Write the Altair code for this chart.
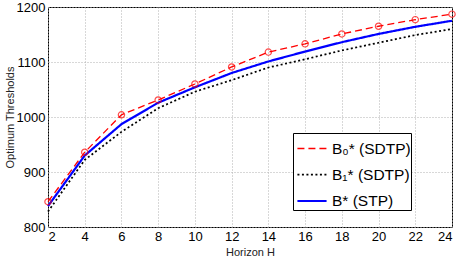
import altair as alt
import pandas as pd

# Horizon values and optimum thresholds per policy
horizon = [2, 4, 6, 8, 10, 12, 14, 16, 18, 20, 22, 24]
series_names = ["B\u2080* (SDTP)", "B\u2081* (SDTP)", "B* (STP)"]
b0_sdtp = [846, 936, 1004, 1031, 1060, 1091, 1118, 1133, 1151, 1165, 1177, 1187]
b1_sdtp = [828, 922, 973, 1016, 1046, 1067, 1090, 1105, 1121, 1135, 1149, 1160]
b_stp = [838, 930, 987, 1026, 1054, 1080, 1101, 1119, 1136, 1151, 1164, 1175]

rows = []
for name, vals in zip(series_names, [b0_sdtp, b1_sdtp, b_stp]):
    for h, v in zip(horizon, vals):
        rows.append({"H": h, "value": v, "series": name})
df = pd.DataFrame(rows)

font = "Liberation Sans"

x = alt.X(
    "H:Q",
    scale=alt.Scale(domain=[2, 24], nice=False),
    axis=alt.Axis(values=list(range(2, 25, 2)), title="Horizon H", format="d"),
)
y = alt.Y(
    "value:Q",
    scale=alt.Scale(domain=[800, 1200], nice=False),
    axis=alt.Axis(values=[800, 900, 1000, 1100, 1200], title="Optimum Thresholds", format="d"),
)

color = alt.Color(
    "series:N",
    scale=alt.Scale(domain=series_names, range=["#ff0000", "#000000", "#0000ff"]),
    sort=series_names,
    legend=alt.Legend(
        title=None,
        orient="none",
        legendX=245,
        legendY=126,
        fillColor="white",
        strokeColor="black",
        padding=0,
        symbolOffset=3,
        symbolType="stroke",
        symbolSize=850,
        symbolStrokeWidth=2,
        labelFontSize=15.5,
        labelFont=font,
        labelColor="black",
        # non-breaking spaces keep some room to the right of the labels
        labelExpr="datum.label + '\u00a0\u00a0\u00a0\u00a0\u00a0\u00a0'",
        rowPadding=2,
        labelOffset=4,
    ),
)
dash = alt.StrokeDash(
    "series:N",
    scale=alt.Scale(domain=series_names, range=[[7, 4], [2, 2.5], [1, 0]]),
    sort=series_names,
)
width_enc = alt.StrokeWidth(
    "series:N",
    scale=alt.Scale(domain=series_names, range=[1.3, 2.2, 2]),
    legend=None,
)

lines = alt.Chart(df).mark_line().encode(
    x=x, y=y, color=color, strokeDash=dash, strokeWidth=width_enc,
    order=alt.Order("H:Q"),
)

points = (
    alt.Chart(df)
    .transform_filter(alt.datum.series == series_names[0])
    .mark_point(shape="circle", filled=False, color="#ff0000", size=40, strokeWidth=1.2)
    .encode(x=x, y=y)
)

chart = (
    alt.layer(lines, points)
    .properties(
        width=404,
        height=220,
        autosize=alt.AutoSizeParams(type="none"),
        padding={"left": 48, "top": 7, "right": 4, "bottom": 37},
    )
    .configure_view(stroke="black", strokeWidth=1)
    .configure_axis(
        grid=True,
        gridColor="#b0b0b0",
        gridDash=[1, 2],
        gridWidth=1,
        ticks=False,
        domain=False,
        labelFont=font,
        labelFontSize=13,
        labelColor="black",
        titleFont=font,
        titleFontSize=11,
        titleFontWeight="normal",
        titleColor="#222222",
    )
    .configure_axisX(labelPadding=3, titlePadding=3)
    .configure_axisY(labelPadding=3, titlePadding=1)
)

chart.save("out.html", embed_options={"renderer": "svg", "actions": False})
